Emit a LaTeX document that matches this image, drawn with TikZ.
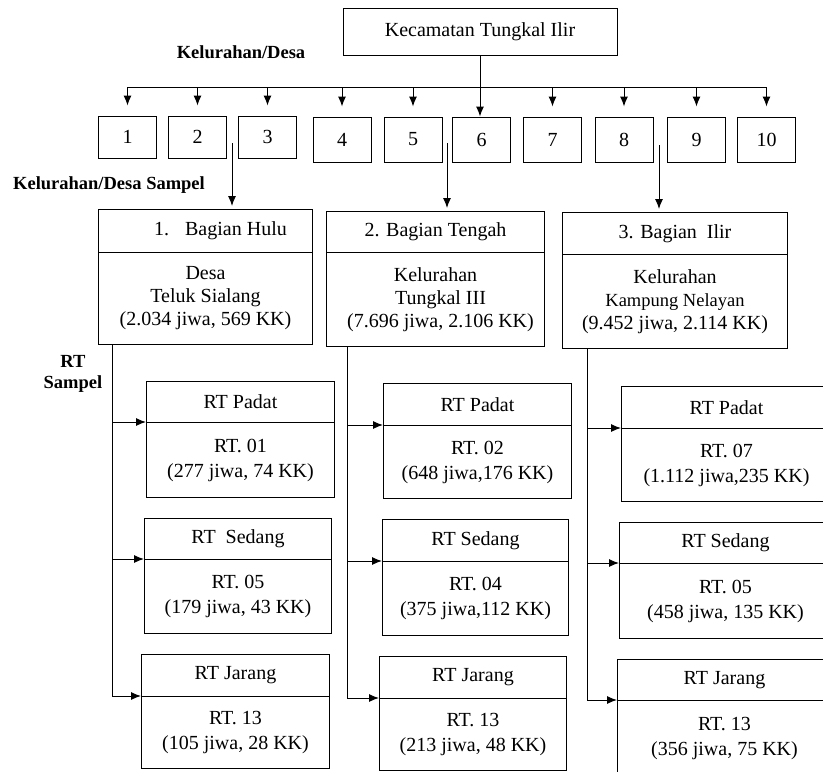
\documentclass[tikz,border=0pt]{standalone}
\usepackage{fontspec}
\setmainfont{Liberation Serif}
\usetikzlibrary{arrows.meta}
\newcommand{\twobox}[8]{%
  \node[box, minimum width={#3-#2}, minimum height={#5-#4}] (#1-h) at (#2,#4) {#7};
  \node[box, minimum width={#3-#2}, minimum height={#6-#5}] (#1-b) at (#2,#5) {#8};}
\begin{document}
\begin{tikzpicture}[x=1pt,y=-1pt, line width=1pt,
  box/.style={draw, inner sep=0pt, anchor=north west, align=center, font=\fontsize{20}{23}\selectfont},
  nbox/.style={draw, inner sep=0pt, minimum width=58, font=\fontsize{20}{24}\selectfont},
  arr/.style={-{Latex[length=10pt,width=8pt]}},
  lbl/.style={font=\bfseries\fontsize{18.5}{21}\selectfont, align=center, inner sep=0pt}]
\useasboundingbox (0,0) rectangle (823,772);

% top
\node[draw, minimum width=274, minimum height=47, inner sep=0pt, font=\fontsize{20}{24}\selectfont] (top) at (480,31.5) {Kecamatan Tungkal Ilir};
\node[lbl] (kd) at (241,52) {Kelurahan/Desa};

% numbered boxes
\node[nbox, minimum height=42] (b1) at (127.5,137) {1};
\node[nbox, minimum height=42] (b2) at (197.5,137) {2};
\node[nbox, minimum height=42] (b3) at (267.5,137) {3};
\node[nbox, minimum height=45] (b4) at (342,139.5) {4};
\node[nbox, minimum height=45] (b5) at (413,139.5) {5};
\node[nbox, minimum height=45] (b6) at (481.5,139.5) {6};
\node[nbox, minimum height=45] (b7) at (552.5,139.5) {7};
\node[nbox, minimum height=45] (b8) at (624,139.5) {8};
\node[nbox, minimum height=45] (b9) at (696.5,139.5) {9};
\node[nbox, minimum height=45] (b10) at (766.5,139.5) {10};

\coordinate (bus) at (0,87);
\draw (b1.north |- bus) -- (b10.north |- bus);
\foreach \i in {1,2,3,4,5,7,8,9,10}
  \draw[arr, shorten >=10pt] (b\i.north |- bus) -- (b\i.north);
\draw[arr] (top.south) -- (top.south |- b6.north);

\node[lbl] (kds) at (109,185) {Kelurahan/Desa Sampel};

% middle boxes
\twobox{hulu}{98}{312}{209}{252}{344}{\hspace*{30pt}1.\hspace{16pt}Bagian Hulu}{Desa\\Teluk Sialang\\(2.034 jiwa, 569 KK)}
\twobox{tengah}{326}{544}{211}{252}{346}{2. Bagian Tengah}{Kelurahan\\\hspace*{10pt}Tungkal III\\\hspace*{10pt}(7.696 jiwa, 2.106 KK)}
\twobox{ilir}{562}{787}{212}{254}{348}{3. Bagian\ \ Ilir}{Kelurahan\\{\fontsize{18.5}{23}\selectfont Kampung Nelayan}\\(9.452 jiwa, 2.114 KK)}

\coordinate (s1) at (232,143);
\coordinate (s2) at (447,143);
\coordinate (s3) at (659,145);
\draw[arr, shorten >=3pt] (s1) -- (s1 |- hulu-h.north);
\draw[arr, shorten >=3pt] (s2) -- (s2 |- tengah-h.north);
\draw[arr, shorten >=3pt] (s3) -- (s3 |- ilir-h.north);

\node[lbl] (rts) at (73,374) {RT\\Sampel};

% RT boxes
\tikzset{box/.append style={font=\fontsize{20}{25}\selectfont}}
\twobox{p1}{146}{334}{381}{422}{497}{RT Padat}{RT. 01\\(277 jiwa, 74 KK)}
\twobox{s1}{144}{331}{518}{559}{633}{RT\ \ Sedang}{RT. 05\\(179 jiwa, 43 KK)}
\twobox{j1}{141}{329}{654}{696}{768}{RT Jarang}{RT. 13\\(105 jiwa, 28 KK)}
\twobox{p2}{383}{571}{383}{425}{498}{RT Padat}{RT. 02\\(648 jiwa,176 KK)}
\twobox{s2}{382}{568}{519}{561}{635}{RT Sedang}{RT. 04\\(375 jiwa,112 KK)}
\twobox{j2}{379}{566}{656}{698}{770}{RT Jarang}{RT. 13\\(213 jiwa, 48 KK)}
\twobox{p3}{621}{831}{386}{428}{501}{RT Padat}{RT. 07\\(1.112 jiwa,235 KK)}
\twobox{s3}{619}{831}{522}{563}{638}{RT Sedang}{RT. 05\\(458 jiwa, 135 KK)}
\twobox{j3}{617}{831}{659}{700}{776}{RT Jarang}{RT. 13\\(356 jiwa, 75 KK)}

% trunks
\coordinate (t1) at (112,0);
\coordinate (t2) at (347,0);
\coordinate (t3) at (587,0);
\draw (t1 |- hulu-b.south) -- (t1 |- j1-b.north);
\draw (t2 |- tengah-b.south) -- (t2 |- j2-b.north);
\draw (t3 |- ilir-b.south) -- (t3 |- j3-b.north);
\foreach \c/\k in {1/p1,1/s1,1/j1,2/p2,2/s2,2/j2,3/p3,3/s3,3/j3}
  \draw[arr] (t\c |- \k-b.north) -- (\k-b.north west);
\end{tikzpicture}
\end{document}
